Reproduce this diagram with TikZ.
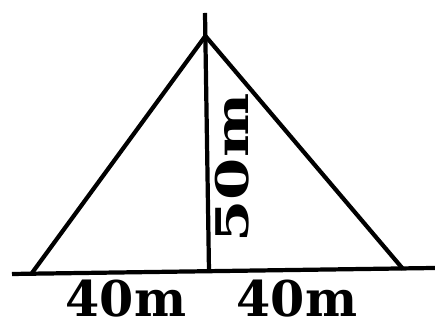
\documentclass[tikz,border=0pt]{standalone}
\usepackage{fontspec}
\setmainfont{DejaVu Serif}
\usepackage{tikz}
\usetikzlibrary{positioning, calc}

\begin{document}
\begin{tikzpicture}[
    line width=1.2pt,
    lbl/.style={inner sep=0pt, font=\bfseries\fontsize{14}{16}\selectfont}
]
\useasboundingbox (0,0) rectangle (4.35,3.24);

% ground and pole
\coordinate (gl) at (0.12,0.50);
\coordinate (gr) at (4.35,0.56);
\coordinate (ptop) at (2.05,3.11);
\coordinate (pfoot) at (2.09,0.53);
\draw (gl) -- (gr);
\draw (ptop) -- (pfoot);

% guy wires
\coordinate (apex) at (2.054,2.88);
\coordinate (bl) at (0.32,0.51);
\coordinate (br) at (4.03,0.55);
\draw (bl) -- (apex) -- (br);

% lengths
\node[lbl, rotate=90, font=\bfseries\fontsize{12.8}{14}\selectfont] (h) at (2.32,1.56) {\scalebox{1.35}[1]{50m}};
\node[lbl, anchor=base] (dl) at (1.26,0.07) {40m};
\node[lbl, anchor=base] (dr) at (2.97,0.07) {40m};

\end{tikzpicture}
\end{document}
